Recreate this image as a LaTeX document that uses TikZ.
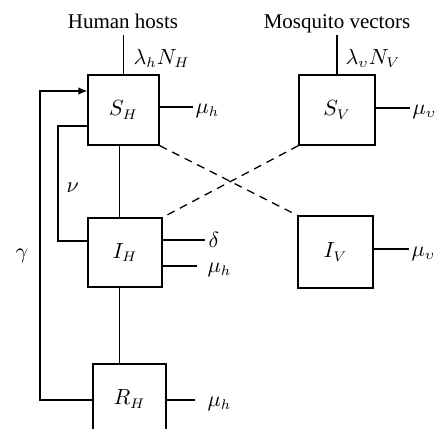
\documentclass[tikz,border=0pt]{standalone}
\usepackage{fontspec}
\setmainfont{Liberation Serif}
\usetikzlibrary{arrows.meta}

\begin{document}
\begin{tikzpicture}[x=0.5pt,y=-0.5pt,line width=0.65pt,>={Latex[length=4.5pt,width=3.8pt]},
  font=\fontsize{10.5}{12.6}\selectfont,
  comp/.style={draw,minimum width=#1,minimum height=35pt,inner sep=0pt},
  contact/.style={dash pattern=on 4pt off 3pt}]
  \useasboundingbox (0,0) rectangle (435,429);
  % headings
  \node[anchor=base] (hosts) at (123,28) {Human hosts};
  \node[anchor=base] (vectors) at (337,28) {Mosquito vectors};
  % compartments
  \node[comp=35.5pt] (SH) at (123.5,110) {$S_H$};
  \node[comp=37pt,minimum height=34.5pt] (IH) at (125,252.5) {$I_H$};
  \node[comp=36.5pt] (RH) at (129.5,399) {$R_H$};
  \node[comp=38pt] (SV) at (337,110) {$S_V$};
  \node[comp=37.5pt,minimum height=36pt] (IV) at (335.5,252) {$I_V$};
  % free ends of the flows
  \coordinate (inSH) at (123.5,35);
  \coordinate (inSV) at (337,35);
  \coordinate (outSH) at (193,107);
  \coordinate (outSV) at (410,108);
  \coordinate (dIH) at (205,240);
  \coordinate (outIH) at (197,266);
  \coordinate (outRH) at (195,400);
  \coordinate (outIV) at (409,249);
  \coordinate (spine) at (119.5,0);
  \coordinate (nuTop) at (58,126);
  \coordinate (nuBot) at (58,241);
  \coordinate (gaTop) at (40,91);
  \coordinate (gaBot) at (40,400);
  % rates
  \node[anchor=base west,inner sep=0pt] (lamH) at (133,64) {$\lambda_h N_H$};
  \node[anchor=base west,inner sep=0pt] (lamV) at (345,64) {$\lambda_\upsilon N_V$};
  \node[anchor=base west,inner sep=0pt] (muSH) at (195,113) {$\mu_h$};
  \node[anchor=base west,inner sep=0pt] (muSV) at (412,114) {$\mu_\upsilon$};
  \node[anchor=base west,inner sep=0pt] (delIH) at (208,247) {$\delta$};
  \node[anchor=base west,inner sep=0pt] (muIH) at (207,272) {$\mu_h$};
  \node[anchor=base west,inner sep=0pt] (muRH) at (207,406) {$\mu_h$};
  \node[anchor=base west,inner sep=0pt] (muIV) at (411,256) {$\mu_\upsilon$};
  \node[anchor=base west,inner sep=0pt] (nu) at (66,192) {$\nu$};
  \node[anchor=base west,inner sep=0pt] (gam) at (15,258) {$\gamma$};
  % flows
  \draw (SH.north) -- (inSH);
  \draw (SV.north) -- (inSV);
  \draw (SH.east |- outSH) -- (outSH);
  \draw (SV.east |- outSV) -- (outSV);
  \draw (IH.east |- dIH) -- (dIH);
  \draw (IH.east |- outIH) -- (outIH);
  \draw (RH.east |- outRH) -- (outRH);
  \draw (IV.east |- outIV) -- (outIV);
  \draw (SH.south -| spine) -- (IH.north -| spine);
  \draw (IH.south -| spine) -- (RH.north -| spine);
  \draw (IH.west |- nuBot) -- (nuBot) -- (nuTop) -- (SH.west |- nuTop);
  \draw[->] (RH.west |- gaBot) -- (gaBot) -- (gaTop) -- (SH.west |- gaTop);
  % cross infection
  \draw[contact] (SH.south east) -- (IV.north west);
  \draw[contact] (SV.south west) -- (IH.north east);
\end{tikzpicture}
\end{document}
